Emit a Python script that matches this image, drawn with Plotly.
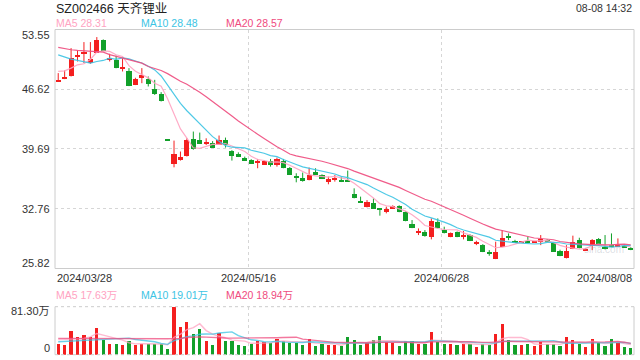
import plotly.graph_objects as go
import pandas as pd

title_text = "SZ002466 天齐锂业"
time_text = "08-08 14:32"
date_labels = ["2024/03/28", "2024/05/16", "2024/06/28", "2024/08/08"]
price_ticks = [53.55, 46.62, 39.69, 32.76, 25.82]
vol_ticks = ["81.30万", "0"]
ma_names = ["MA5", "MA10", "MA20"]
price_ma_labels = ["28.31", "28.48", "28.57"]
vol_ma_labels = ["17.63万", "19.01万", "18.94万"]

opens = [47.64, 47.90, 48.17, 50.50, 50.73, 49.73, 50.93, 52.35, 50.15, 50.11,
         49.10, 48.80, 47.13, 47.99, 47.90, 46.74, 46.16, 40.74, 38.03, 38.41,
         38.92, 40.93, 40.82, 40.44, 40.47, 40.23, 40.82, 39.50, 39.19, 38.72,
         38.41, 38.18, 37.91, 38.34, 37.91, 38.34, 37.53, 36.50, 36.43, 36.09,
         37.06, 36.67, 35.97, 36.09, 36.20, 36.09, 34.54, 33.69, 33.00, 33.50,
         32.79, 32.41, 32.80, 33.11, 32.41, 31.05, 30.05, 30.09, 29.51, 31.32,
         30.36, 29.51, 30.09, 29.51, 29.78, 28.79, 28.61, 27.71, 26.99, 28.35,
         29.70, 29.11, 28.91, 29.11, 28.91, 28.93, 29.13, 28.85, 27.95, 27.07,
         28.15, 29.20, 27.95, 28.53, 29.31, 28.35, 28.55, 28.51, 28.53, 28.23]
highs = [48.49, 48.80, 51.39, 51.12, 52.09, 52.09, 52.67, 52.40, 50.73, 50.50,
         50.23, 49.07, 47.95, 49.07, 48.10, 47.71, 46.28, 40.74, 40.66, 39.39,
         40.93, 41.71, 41.59, 40.93, 40.60, 41.25, 41.01, 39.55, 39.30, 38.80,
         38.50, 38.53, 38.40, 38.53, 38.69, 38.53, 37.60, 36.87, 36.95, 37.53,
         37.45, 36.75, 36.48, 36.67, 36.48, 37.18, 35.12, 34.16, 33.76, 33.96,
         32.80, 33.00, 33.15, 33.15, 32.45, 31.44, 30.47, 30.28, 31.63, 31.63,
         30.67, 30.00, 30.12, 30.16, 29.80, 29.04, 28.65, 27.95, 28.93, 30.28,
         29.89, 29.15, 29.00, 29.51, 29.00, 29.70, 29.20, 28.90, 28.00, 28.53,
         29.63, 29.39, 28.20, 29.23, 29.35, 29.70, 29.89, 29.31, 28.60, 28.30]
lows = [47.59, 47.79, 48.10, 49.84, 49.65, 49.57, 50.85, 51.05, 49.84, 49.05,
        48.68, 46.98, 47.10, 47.32, 46.94, 45.96, 45.20, 40.74, 37.56, 38.34,
        38.81, 39.60, 40.30, 40.15, 39.80, 40.15, 39.85, 38.34, 38.75, 38.30,
        37.95, 37.45, 37.85, 37.64, 37.64, 37.45, 36.70, 35.82, 35.90, 36.05,
        36.67, 36.20, 35.59, 35.90, 35.85, 35.93, 33.96, 33.50, 32.91, 32.75,
        31.95, 32.22, 32.75, 32.35, 31.30, 30.50, 29.70, 29.51, 29.20, 30.47,
        29.89, 29.45, 29.45, 29.20, 29.00, 28.53, 27.72, 27.30, 26.91, 28.30,
        29.11, 28.80, 28.85, 28.85, 28.85, 28.53, 29.00, 27.80, 27.25, 26.99,
        28.07, 28.15, 27.90, 27.95, 28.70, 28.03, 28.45, 28.45, 28.30, 27.95]
closes = [47.71, 48.10, 50.34, 50.69, 51.01, 50.23, 52.35, 51.12, 50.31, 49.10,
          49.26, 47.01, 47.90, 48.29, 47.24, 46.08, 45.27, 40.74, 39.19, 38.81,
          40.73, 39.69, 40.35, 40.50, 39.85, 40.73, 40.15, 38.92, 38.81, 38.34,
          38.03, 38.24, 38.34, 37.83, 38.53, 37.53, 36.78, 36.46, 36.02, 36.78,
          36.78, 36.28, 36.28, 36.37, 35.90, 35.97, 34.04, 33.58, 33.58, 32.80,
          32.74, 32.80, 33.11, 32.41, 31.35, 30.56, 30.12, 29.63, 31.44, 30.56,
          29.97, 29.97, 29.51, 29.78, 29.04, 28.83, 27.77, 27.67, 27.84, 29.43,
          29.43, 28.85, 28.95, 28.93, 28.95, 29.31, 29.09, 27.84, 27.30, 27.95,
          28.93, 28.27, 28.15, 29.20, 28.73, 28.15, 28.51, 28.55, 28.35, 28.03]
volumes = [18.07, 16.37, 40.09, 29.92, 33.31, 31.05, 45.17, 25.97, 18.07, 18.07,
           16.37, 23.15, 16.37, 18.63, 18.63, 18.63, 18.07, 9.60, 81.30, 47.43,
           55.33, 35.01, 43.47, 23.15, 16.94, 37.26, 23.15, 23.15, 16.94, 14.68,
           18.63, 24.28, 22.02, 20.33, 26.54, 23.15, 20.33, 20.33, 16.37, 26.54,
           14.68, 18.07, 16.37, 16.37, 14.68, 29.92, 24.84, 16.37, 20.33, 24.84,
           31.62, 22.02, 20.33, 14.68, 23.15, 23.15, 19.20, 19.20, 38.96, 22.02,
           19.20, 18.07, 16.37, 19.20, 18.07, 13.55, 18.07, 16.37, 35.01, 52.51,
           24.84, 16.37, 16.37, 18.07, 14.68, 22.02, 18.07, 18.07, 14.68, 29.92,
           24.84, 19.20, 12.99, 26.54, 20.33, 14.68, 26.54, 20.33, 12.99, 11.29]

# moving-average values before the window fills
ma5_head = [48.68, 48.75, 49.07, 49.45]
ma10_head = [50.61, 50.34, 50.11, 49.96, 49.84, 49.65, 49.84, 49.96, 50.23]
ma20_head = [51.48, 51.33, 51.20, 51.12, 51.06, 51.04, 51.02, 50.93, 50.63, 50.43,
             50.23, 50.02, 49.84, 49.65, 49.26, 49.04, 48.79, 48.43, 47.96]
vma5_head = [25.5, 25.8, 26.5, 27.0]
vma10_head = [22.0, 22.5, 23.0, 23.5, 24.5, 25.0, 25.5, 26.5, 27.0]
vma20_head = [27.6, 27.5, 27.4, 27.4, 27.3, 27.3, 27.2, 27.2, 27.2, 27.1,
              27.1, 27.1, 27.0, 27.0, 27.0, 27.0, 27.0, 27.1, 27.2]

UP = "#f41f1f"
DOWN = "#12a02a"
C5 = "#ffa3c2"
C10 = "#3cc4e4"
C20 = "#ef4b7e"
FONT = "Liberation Sans, Noto Sans CJK SC, Arial, sans-serif"

n = len(closes)
idx = list(range(n))


def moving(vals, w, head):
    s = pd.Series(vals).rolling(w).mean().tolist()
    return head + s[w - 1:]


ma5 = moving(closes, 5, ma5_head)
ma10 = moving(closes, 10, ma10_head)
ma20 = moving(closes, 20, ma20_head)
vma5 = moving(volumes, 5, vma5_head)
vma10 = moving(volumes, 10, vma10_head)
vma20 = moving(volumes, 20, vma20_head)

colors = []
for i in range(n):
    o, c = opens[i], closes[i]
    if c > o:
        up = True
    elif c < o:
        up = False
    else:
        up = c >= closes[i - 1] if i > 0 else True
    colors.append(UP if up else DOWN)

min_h = 0.1
body_base, body_h = [], []
for o, c in zip(opens, closes):
    h = abs(c - o)
    if h < min_h:
        body_base.append((o + c) / 2 - min_h / 2)
        body_h.append(min_h)
    else:
        body_base.append(min(o, c))
        body_h.append(h)

fig = go.Figure()

for col in (UP, DOWN):
    wx, wy = [], []
    for i in range(n):
        if colors[i] == col:
            wx += [i, i, None]
            wy += [lows[i], highs[i], None]
    fig.add_trace(go.Scatter(x=wx, y=wy, mode="lines", line=dict(color=col, width=1),
                             hoverinfo="skip", showlegend=False, xaxis="x", yaxis="y"))

fig.add_trace(go.Bar(x=idx, y=body_h, base=body_base, width=0.8,
                     marker=dict(color=colors, line=dict(width=0)),
                     showlegend=False, xaxis="x", yaxis="y"))

for vals, col in ((ma5, C5), (ma10, C10), (ma20, C20)):
    fig.add_trace(go.Scatter(x=idx, y=vals, mode="lines", line=dict(color=col, width=1.2),
                             opacity=0.9, showlegend=False, xaxis="x", yaxis="y"))

fig.add_trace(go.Bar(x=idx, y=volumes, width=0.5,
                     marker=dict(color=colors, line=dict(width=0)),
                     showlegend=False, xaxis="x2", yaxis="y2"))
for vals, col in ((vma5, C5), (vma10, C10), (vma20, C20)):
    fig.add_trace(go.Scatter(x=idx, y=vals, mode="lines", line=dict(color=col, width=1.4),
                             opacity=0.75, showlegend=False, xaxis="x2", yaxis="y2"))

W, H = 640, 360
L, R = 55, 6
main_top, main_bot = 29.5, 268.5
vol_top, vol_bot = 306.7, 354.7


def py(y):
    return (H - y) / H


def px(x):
    return (x - L) / (W - L - R)


main_dom = [py(main_bot), py(main_top)]
vol_dom = [py(vol_bot), py(vol_top)]

grid = dict(showgrid=True, gridcolor="#d6d6d6", griddash="dot", gridwidth=1,
            zeroline=False, showline=False, ticks="", showticklabels=False)

fig.update_layout(
    width=W, height=H, autosize=False,
    margin=dict(l=L, r=R, t=0, b=0),
    paper_bgcolor="white", plot_bgcolor="white",
    font=dict(family=FONT, size=11, color="#333"),
    bargap=0, showlegend=False,
    xaxis=dict(domain=[0, 1], range=[-0.5, n - 0.5], tickvals=[29.5, 59.5], anchor="y", **grid),
    yaxis=dict(domain=main_dom, range=[price_ticks[-1], price_ticks[0]],
               tickvals=price_ticks[1:-1], anchor="x", **grid),
    xaxis2=dict(domain=[0, 1], range=[-0.5, n - 0.5], tickvals=[29.5, 59.5], anchor="y2", **grid),
    yaxis2=dict(domain=vol_dom, range=[0, max(volumes)], tickvals=[], anchor="x2",
                showgrid=False, zeroline=False, showline=False, ticks="", showticklabels=False),
)

shapes = [
    dict(type="rect", xref="paper", yref="paper", x0=0, x1=1, y0=main_dom[0], y1=main_dom[1],
         line=dict(color="#cccccc", width=1)),
    dict(type="line", xref="paper", yref="paper", x0=0, x1=0, y0=vol_dom[0], y1=vol_dom[1],
         line=dict(color="#cccccc", width=1)),
    dict(type="line", xref="paper", yref="paper", x0=1, x1=1, y0=vol_dom[0], y1=vol_dom[1],
         line=dict(color="#cccccc", width=1)),
    dict(type="line", xref="paper", yref="paper", x0=0, x1=1, y0=vol_dom[1], y1=vol_dom[1],
         line=dict(color="#cccccc", width=1, dash="dot")),
    dict(type="line", xref="paper", yref="paper", x0=0, x1=1, y0=vol_dom[0], y1=vol_dom[0],
         line=dict(color="#cccccc", width=1, dash="dot")),
]
fig.update_layout(shapes=shapes)

ann = []
ann.append(dict(text=title_text, xref="paper", yref="paper", x=px(54), y=py(8),
                xanchor="left", yanchor="middle", showarrow=False,
                font=dict(size=12.5, color="#222")))
ann.append(dict(text=time_text, xref="paper", yref="paper", x=1, y=py(8),
                xanchor="right", yanchor="middle", showarrow=False,
                font=dict(size=10.5, color="#333")))

head_x = [54, 139, 224]
ma_cols = [C5, C10, C20]
for name, lab, col, hx in zip(ma_names, price_ma_labels, ma_cols, head_x):
    ann.append(dict(text=f"{name} {lab}", xref="paper", yref="paper", x=px(hx), y=py(23.5),
                    xanchor="left", yanchor="middle", showarrow=False,
                    font=dict(size=10.5, color=col)))
for name, lab, col, hx in zip(ma_names, vol_ma_labels, ma_cols, head_x):
    ann.append(dict(text=f"{name} {lab}", xref="paper", yref="paper", x=px(hx), y=py(294.5),
                    xanchor="left", yanchor="middle", showarrow=False,
                    font=dict(size=10.5, color=col)))

shifts = [-5.5, 0, 0, 0, 5.5]
for v, s in zip(price_ticks, shifts):
    ann.append(dict(text=f"{v:.2f}", xref="paper", yref="y", x=0, y=v, xshift=-3, yshift=s,
                    xanchor="right", yanchor="middle", showarrow=False,
                    font=dict(size=11, color="#333")))
ann.append(dict(text=vol_ticks[0], xref="paper", yref="y2", x=0, y=max(volumes), xshift=-3, yshift=-4,
                xanchor="right", yanchor="middle", showarrow=False, font=dict(size=11, color="#333")))
ann.append(dict(text=vol_ticks[1], xref="paper", yref="y2", x=0, y=0, xshift=-3, yshift=6.5,
                xanchor="right", yanchor="middle", showarrow=False, font=dict(size=11, color="#333")))

date_pos = [-0.5, 29.5, 59.5, n - 0.5]
date_anchor = ["left", "center", "center", "right"]
for d, xp, xa in zip(date_labels, date_pos, date_anchor):
    ann.append(dict(text=d, xref="x", yref="paper", x=xp, y=py(277.5), xanchor=xa, yanchor="middle",
                    showarrow=False, font=dict(size=11, color="#333")))

ann.append(dict(text="sina.com", xref="paper", yref="paper", x=px(604), y=py(249),
                xanchor="center", yanchor="middle", showarrow=False,
                font=dict(size=10, color="rgba(120,130,150,0.28)")))

fig.update_layout(annotations=ann)
fig.write_html("out.html", config={"displayModeBar": False},
               post_script="document.body.style.margin='0';document.body.style.overflow='hidden';")
